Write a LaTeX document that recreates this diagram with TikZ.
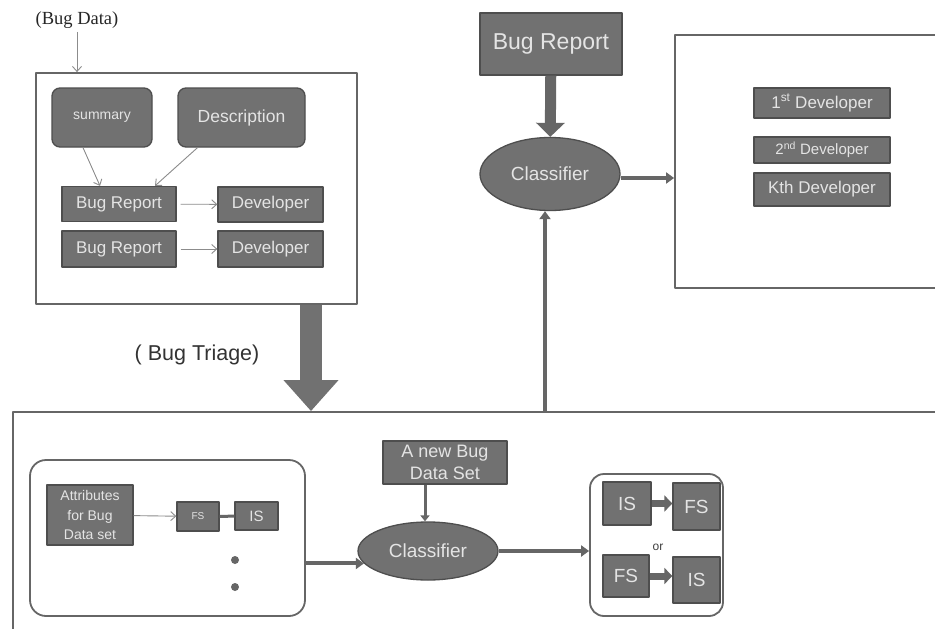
\documentclass[tikz,border=0pt]{standalone}
\usepackage{fontspec}
\setmainfont{Liberation Sans}
\newfontfamily\bugserif{Liberation Serif}
\usetikzlibrary{arrows.meta,shapes.geometric}
\definecolor{boxgray}{HTML}{717171}
\definecolor{boxedge}{HTML}{4E4E4E}
\definecolor{boxtext}{HTML}{E4E4E4}
\definecolor{linegray}{HTML}{666666}
\definecolor{thingray}{HTML}{8C8C8C}
\tikzset{
  gbox/.style={rectangle, fill=boxgray, draw=boxedge, line width=1.3pt, text=boxtext, inner sep=0pt},
  rbox/.style={gbox, rounded corners=8pt},
  clsnode/.style={ellipse, fill=boxgray, draw=boxedge, line width=1.3pt, text=boxtext, inner sep=0pt},
  frame/.style={rectangle, draw=linegray, line width=1.8pt, inner sep=0pt},
  rframe/.style={frame, rounded corners=16pt},
  thinarr/.style={draw=thingray, line width=0.9pt, -{Straight Barb[length=5pt,width=9pt]}},
  thickarr/.style={draw=linegray, line width=4pt, -{Triangle[length=8pt,width=11pt]}},
  fatarr/.style={draw=linegray, line width=7pt, -{Triangle[length=8pt,width=16pt]}},
  fs/.style={font=\fontsize{#1}{#1}\selectfont}
}
\begin{document}
\begin{tikzpicture}[x=1pt, y=-1pt, line join=round]
\clip (0,0) rectangle (935,629);
\fill[white] (0,0) rectangle (935,629);
% frames
\node[frame, minimum width=321, minimum height=231] (datafr) at (196.5,188.5) {};
\node[frame, minimum width=285, minimum height=253] (devfr) at (817.5,161.5) {};
\node[frame, minimum width=947, minimum height=238] (trifr) at (486.5,531) {};
% bug data
\node[fs=18.5, text=black!85] (bugdata) at (77,20) {\bugserif (Bug Data)};
\draw[thinarr] (bugdata.south) -- (bugdata.south |- datafr.north);
\node[rbox, fs=14, minimum width=100, minimum height=59] (summ) at (102,117.5) {summary};
\node[rbox, fs=17.5, minimum width=127, minimum height=59] (desc) at (241.5,117.5) {Description};
\node[gbox, fs=17, minimum width=114, minimum height=35] (brone) at (119,204) {Bug Report};
\node[gbox, fs=17, minimum width=105, minimum height=35] (devone) at (270.5,204.5) {Developer};
\node[gbox, fs=17, minimum width=114, minimum height=36] (brtwo) at (119,249) {Bug Report};
\node[gbox, fs=17, minimum width=105, minimum height=36] (devtwo) at (270.5,249) {Developer};
\draw[thinarr] ([xshift=-19pt]summ.south) -- ([xshift=-19pt]brone.north);
\draw[thinarr] ([xshift=-44pt]desc.south) -- ([xshift=36pt]brone.north);
\draw[thinarr, shorten <=4pt] (brone) -- (devone);
\draw[thinarr, shorten <=4pt] (brtwo) -- (devtwo);
% bug triage
\draw[draw=boxgray, line width=22pt, -{Triangle[length=31pt,width=53pt]}]
  ([xshift=114.5pt]datafr.south) -- ([xshift=114.5pt]datafr.south |- trifr.north);
\node[fs=21.5, text=black!80] (triage) at (197,355) {( Bug Triage)};
% top classifier
\node[gbox, fs=23, minimum width=142, minimum height=62] (newrep) at (551,44) {Bug Report};
\node[clsnode, fs=19, minimum width=140, minimum height=73] (clstop) at (550,174) {Classifier};
\draw[draw=linegray, line width=11pt, -{Triangle[length=14pt,width=28pt]}] (newrep) -- (clstop);
\draw[thickarr] ([yshift=-4pt]clstop.east) -- ([yshift=-4pt]clstop.east -| devfr.west);
\node[gbox, fs=17, minimum width=136, minimum height=30] (deva) at (822,103) {1\textsuperscript{st} Developer};
\node[gbox, fs=15, minimum width=136, minimum height=26] (devb) at (822,150) {2\textsuperscript{nd} Developer};
\node[gbox, fs=17, minimum width=136, minimum height=33] (devk) at (822,189.5) {Kth Developer};
\draw[thickarr] ([xshift=-5pt]clstop.south |- trifr.north) -- ([xshift=-5pt]clstop.south);
% feature and instance selection
\node[rframe, minimum width=275, minimum height=156] (selfr) at (167.5,538) {};
\node[gbox, align=center, font=\fontsize{14}{19.5}\selectfont, minimum width=86, minimum height=60] (attr) at (90,515) {Attributes\\for Bug\\Data set};
\node[gbox, fs=10, minimum width=42, minimum height=29] (fsa) at (198,516.5) {FS};
\node[gbox, fs=15, minimum width=43, minimum height=28] (isa) at (256.5,516) {IS};
\draw[thinarr] (attr) -- (fsa);
\draw[draw=linegray, line width=3pt] (fsa) -- (isa);
\node[circle, fill=linegray, inner sep=0pt, minimum size=8] (dota) at (235,560) {};
\node[circle, fill=linegray, inner sep=0pt, minimum size=8] (dotb) at (235,587) {};
\node[clsnode, fs=19, minimum width=140, minimum height=58] (clsbot) at (428,551) {Classifier};
\node[gbox, align=center, font=\fontsize{18}{22}\selectfont, minimum width=124, minimum height=43] (newbug) at (445,462.5) {A new Bug\\Data Set};
\draw[draw=linegray, line width=3pt, -{Triangle[length=6pt,width=9pt]}] ([xshift=-20pt]newbug.south) -- ([xshift=-20pt]newbug.south |- clsbot.north);
\draw[thickarr] (selfr.east |- clsbot.191) -- (clsbot.191);
\node[rframe, rounded corners=14pt, minimum width=133, minimum height=142] (resfr) at (656.5,545) {};
\draw[thickarr] (clsbot.east) -- (clsbot.east -| resfr.west);
\node[gbox, fs=19, minimum width=48, minimum height=43] (isb) at (627,503.5) {IS};
\node[gbox, fs=19, minimum width=47, minimum height=47] (fsb) at (696.5,506.5) {FS};
\node[gbox, fs=19, minimum width=46, minimum height=42] (fsc) at (626,576) {FS};
\node[gbox, fs=19, minimum width=47, minimum height=46] (isc) at (696.5,580) {IS};
\draw[fatarr] (isb) -- (isb -| fsb.west);
\draw[fatarr] (fsc) -- (fsc -| isc.west);
\node[fs=12, text=black!75] (ortext) at (658,547) {or};
\end{tikzpicture}
\end{document}
